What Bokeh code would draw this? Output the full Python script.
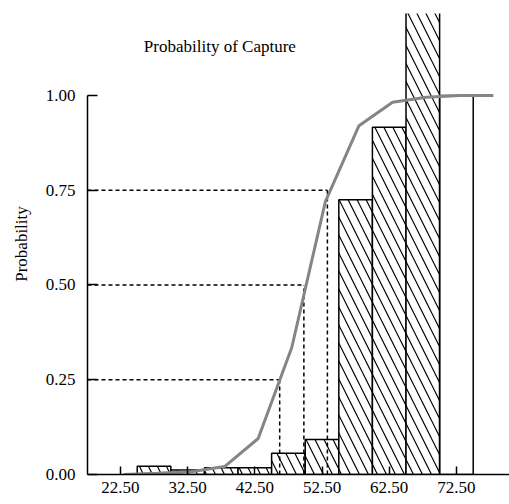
from bokeh.plotting import figure
from bokeh.models import Range1d, FixedTicker, Label, NumeralTickFormatter
from bokeh.embed import file_html
from bokeh.resources import INLINE

# Histogram bins (left/right edges) and bar heights
bin_left = [25, 30, 35, 40, 45, 50, 55, 60, 65]
bin_right = [30, 35, 40, 45, 50, 55, 60, 65, 70]
bar_height = [0.022, 0.012, 0.018, 0.018, 0.056, 0.092, 0.725, 0.916, 1.5]

# last open (unhatched) bin
open_left = [70]
open_right = [75]
open_height = [1.0]

# Probability of capture curve
curve_x = [23, 28, 33, 38, 43, 48, 53, 58, 63, 68, 73, 78]
curve_y = [0.0, 0.003, 0.007, 0.021, 0.095, 0.335, 0.72, 0.92, 0.982, 0.995, 1.0, 1.0]

# Quantile guide lines (L25, L50, L75)
quant_x = [46.2, 49.8, 53.3]
quant_y = [0.25, 0.50, 0.75]

x_ticks = [22.5, 32.5, 42.5, 52.5, 62.5, 72.5]
y_ticks = [0.0, 0.25, 0.5, 0.75, 1.0]

FONT = "Liberation Serif"

x0, x1 = 17.6, 80.4
y0, y1 = 0.0, 1.216

p = figure(width=509, height=504, output_backend="svg", toolbar_location=None,
           x_range=Range1d(x0, x1), y_range=Range1d(y0, y1),
           min_border_left=87, min_border_right=0, min_border_top=13, min_border_bottom=30)
p.outline_line_color = None
p.grid.grid_line_color = None
p.background_fill_color = "white"

# bars
p.quad(left=bin_left, right=bin_right, bottom=0, top=bar_height,
       fill_color="white", line_color="black", line_width=1.5,
       hatch_pattern="left_diagonal_line", hatch_color="black",
       hatch_weight=1.2, hatch_scale=18)
p.quad(left=open_left, right=open_right, bottom=0, top=open_height,
       fill_color=None, line_color="black", line_width=1.5)

# dashed guides
for qx, qy in zip(quant_x, quant_y):
    p.line([x0, qx], [qy, qy], line_color="black", line_width=1.5, line_dash="4 3")
    p.line([qx, qx], [0, qy], line_color="black", line_width=1.5, line_dash="4 3")

# curve
p.line(curve_x, curve_y, line_color="#858585", line_width=3)

# axes
p.xaxis.ticker = FixedTicker(ticks=x_ticks)
p.xaxis.formatter = NumeralTickFormatter(format="0.00")
p.yaxis.ticker = FixedTicker(ticks=y_ticks)
p.yaxis.formatter = NumeralTickFormatter(format="0.00")
p.yaxis.bounds = (0, 1)
for ax in (p.xaxis, p.yaxis):
    ax.axis_line_width = 1.5
    ax.axis_line_color = "black"
    ax.major_tick_line_width = 1.5
    ax.major_tick_line_color = "black"
    ax.major_tick_out = 0
    ax.minor_tick_line_color = None
    ax.major_label_text_font = FONT
    ax.major_label_text_font_size = "17px"
    ax.major_label_text_color = "black"
p.xaxis.major_tick_in = 8
p.yaxis.major_tick_in = 10
p.xaxis.major_label_standoff = 7
p.yaxis.major_label_standoff = 12
p.yaxis.axis_label = "Probability"
p.yaxis.axis_label_text_font = FONT
p.yaxis.axis_label_text_font_size = "17px"
p.yaxis.axis_label_text_font_style = "normal"
p.yaxis.axis_label_text_color = "black"
p.yaxis.axis_label_standoff = 12

p.add_layout(Label(x=37.3, y=1.129, text="Probability of Capture",
                   text_font=FONT, text_font_size="17px", text_color="black",
                   text_align="center", text_baseline="middle"))

open("out.html", "w").write(file_html(p, INLINE))
